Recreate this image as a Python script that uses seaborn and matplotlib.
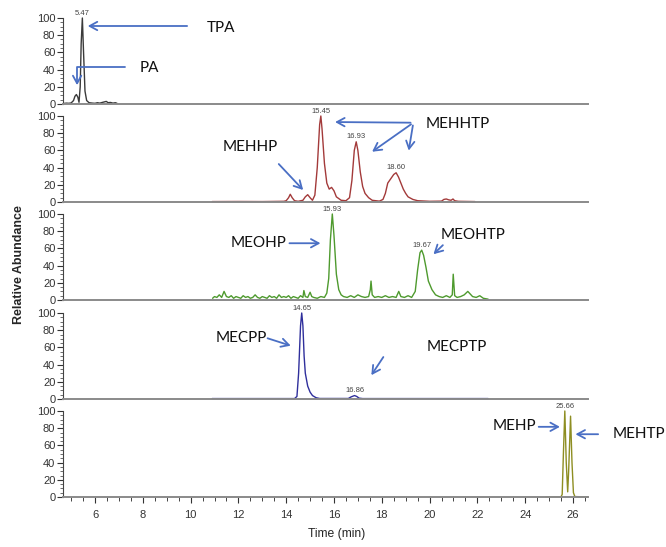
import numpy as np
import pandas as pd
import matplotlib
matplotlib.use('Agg')
import matplotlib.pyplot as plt
from matplotlib.ticker import MultipleLocator
import seaborn as sns

# ==============================================
# DATA
# ==============================================

# TPA / PA trace (top panel)
tpa_time = [4.66, 4.8, 4.9, 5.0, 5.1, 5.16, 5.22, 5.28, 5.33, 5.38, 5.42, 5.47,
            5.52, 5.58, 5.65, 5.75, 5.9, 6.0, 6.1, 6.2, 6.3, 6.4, 6.47, 6.55,
            6.65, 6.75, 6.85, 6.92]
tpa_abund = [0.5, 1.0, 0.8, 1.2, 4, 9, 11, 8, 2, 20, 70, 100,
             60, 15, 4, 1.5, 1.0, 0.8, 1.5, 1.0, 1.8, 2.5, 3.0, 1.5,
             1.8, 1.0, 1.5, 0.8]

# MEHHP / MEHHTP trace
mehhp_time = [10.9, 12.0, 13.0, 13.9, 14.0, 14.1, 14.17, 14.25, 14.35, 14.5,
              14.7, 14.8, 14.9, 15.0, 15.1, 15.2, 15.3, 15.4, 15.45, 15.5,
              15.6, 15.7, 15.8, 15.9, 16.0, 16.1, 16.3, 16.5, 16.65, 16.75,
              16.85, 16.93, 17.0, 17.1, 17.2, 17.3, 17.45, 17.6, 17.9, 18.05,
              18.15, 18.25, 18.4, 18.5, 18.6, 18.7, 18.8, 18.9, 19.0, 19.1,
              19.3, 19.5, 20.0, 20.5, 20.6, 20.7, 20.8, 20.9, 20.98, 21.05,
              21.2, 21.9]
mehhp_abund = [0.5, 0.6, 0.5, 0.8, 1.5, 5, 9, 5, 1.5, 0.8,
               2, 6, 8.5, 5, 2, 8, 40, 90, 100, 85,
               45, 22, 15, 17, 13, 6, 2, 1.5, 5, 25,
               60, 70, 60, 35, 18, 10, 5, 2, 1, 3,
               10, 22, 28, 32, 34, 29, 22, 15, 10, 6,
               3, 1.5, 0.8, 1, 3, 3.5, 2.5, 2, 3.5, 1.5,
               0.8, 0.5]

# MEOHP / MEOHTP trace (noisy baseline)
meohp_time = [10.92, 11.0, 11.1, 11.2, 11.3, 11.4, 11.5, 11.6, 11.7, 11.8,
              11.9, 12.0, 12.1, 12.2, 12.3, 12.4, 12.5, 12.6, 12.7, 12.8,
              12.9, 13.0, 13.1, 13.2, 13.3, 13.4, 13.5, 13.6, 13.7, 13.8,
              13.9, 14.0, 14.1, 14.2, 14.3, 14.4, 14.5, 14.6, 14.7, 14.74,
              14.8, 14.9, 15.0, 15.07, 15.15, 15.3, 15.45, 15.6, 15.7, 15.78,
              15.85, 15.93, 16.0, 16.1, 16.2, 16.3, 16.4, 16.55, 16.7, 16.85,
              17.0, 17.15, 17.3, 17.45, 17.52, 17.55, 17.6, 17.7, 17.85, 18.0,
              18.15, 18.3, 18.45, 18.6, 18.71, 18.8, 18.95, 19.1, 19.25, 19.4,
              19.5, 19.6, 19.67, 19.75, 19.85, 19.95, 20.1, 20.25, 20.4, 20.55,
              20.7, 20.85, 20.95, 20.99, 21.05, 21.15, 21.3, 21.45, 21.6, 21.7,
              21.8, 21.95, 22.1, 22.25, 22.45]
meohp_abund = [2, 4, 3, 6, 3, 10, 4, 3, 5, 2,
               4, 3, 2, 5, 3, 4, 2, 3, 6, 3,
               2, 4, 3, 2, 5, 3, 4, 2, 6, 3,
               4, 3, 5, 2, 4, 3, 2, 5, 3, 11,
               4, 3, 9, 4, 3, 2, 4, 3, 8, 25,
               70, 100, 75, 30, 12, 6, 4, 3, 5, 3,
               6, 4, 3, 4, 12, 22, 6, 3, 4, 3,
               5, 3, 4, 3, 10, 4, 3, 5, 3, 10,
               35, 55, 58, 52, 38, 22, 12, 6, 4, 3,
               5, 3, 6, 30, 5, 3, 4, 6, 10, 7,
               4, 3, 5, 2, 1]

# MECPP / MECPTP trace
mecpp_time = [10.9, 12.5, 14.35, 14.45, 14.52, 14.6, 14.65, 14.7, 14.75, 14.8,
              14.9, 15.0, 15.1, 15.25, 15.4, 16.6, 16.72, 16.86, 16.95, 17.05,
              17.2, 20.0, 22.45]
mecpp_abund = [0.5, 0.5, 0.5, 3, 30, 85, 100, 85, 50, 30,
               15, 8, 4, 1.5, 0.6, 0.6, 2.5, 4, 3, 1,
               0.5, 0.5, 0.5]

# MEHP / MEHTP trace
mehp_time = [24.87, 25.2, 25.5, 25.55, 25.6, 25.66, 25.72, 25.78, 25.82, 25.9,
             25.96, 26.02, 26.08, 26.3, 26.63]
mehp_abund = [0.3, 0.3, 0.3, 3, 50, 100, 40, 6, 30, 94,
              40, 5, 0.5, 0.3, 0.3]

trace_colors = ['#3a3a3a', '#a33a3a', '#4e9a2e', '#2f2f9c', '#8e8e22']

# labelled peaks per panel: (time, abundance, label)
peak_labels = [
    [(5.47, 100, '5.47')],
    [(15.45, 100, '15.45'), (16.93, 70, '16.93'), (18.60, 34, '18.60')],
    [(15.93, 100, '15.93'), (19.67, 58, '19.67')],
    [(14.65, 100, '14.65'), (16.86, 4, '16.86')],
    [(25.66, 100, '25.66')],
]

# compound names: (panel, text x, text y, label)
compound_names = [
    (0, 10.68, 88, 'TPA'), (0, 7.88, 42, 'PA'),
    (1, 11.34, 64, 'MEHHP'), (1, 19.85, 91, 'MEHHTP'),
    (2, 11.68, 66, 'MEOHP'), (2, 20.45, 76, 'MEOHTP'),
    (3, 11.06, 71, 'MECPP'), (3, 19.89, 60, 'MECPTP'),
    (4, 22.64, 83, 'MEHP'), (4, 27.66, 73, 'MEHTP'),
]

# arrows: (panel, start x, start y, tip x, tip y)
arrows = [
    (0, 9.97, 90.7, 5.58, 90.7),
    (1, 13.61, 46.5, 14.79, 11.6),
    (1, 19.32, 92.2, 15.93, 93.0),
    (1, 19.32, 92.2, 17.50, 56.6),
    (1, 19.32, 92.2, 19.11, 56.6),
    (2, 14.02, 66, 15.55, 66),
    (2, 20.64, 66, 20.08, 51),
    (3, 13.11, 71.6, 14.30, 61),
    (3, 18.13, 51.5, 17.50, 25),
    (4, 24.45, 81.6, 25.57, 81.6),
    (4, 27.17, 73, 25.99, 73),
]

traces = [
    (tpa_time, tpa_abund),
    (mehhp_time, mehhp_abund),
    (meohp_time, meohp_abund),
    (mecpp_time, mecpp_abund),
    (mehp_time, mehp_abund),
]

# ==============================================
# PLOT
# ==============================================

sns.set_style('ticks')
plt.rcParams['font.family'] = ['Liberation Sans', 'DejaVu Sans']

fig = plt.figure(figsize=(6.66, 5.47), dpi=100)

left, width = 63 / 666, (588 - 63) / 666
height = 86 / 547
zero_px = [104, 202, 300, 399, 497]
arrow_blue = '#4a6fc4'

axes = []
for i, (t, a) in enumerate(traces):
    ax = fig.add_axes([left, (547 - zero_px[i]) / 547, width, height])
    df = pd.DataFrame({'time': t, 'abund': a})
    sns.lineplot(data=df, x='time', y='abund', ax=ax, color=trace_colors[i],
                 linewidth=1.0, sort=False, estimator=None)
    for line in ax.lines:
        line.set_clip_on(False)
    ax.set_xlim(4.66, 26.63)
    ax.set_ylim(0, 100)
    ax.set_xlabel('')
    ax.set_ylabel('')
    ax.yaxis.set_major_locator(MultipleLocator(20))
    ax.yaxis.set_minor_locator(MultipleLocator(5))
    ax.tick_params(axis='y', which='major', length=4, width=0.8, labelsize=8,
                   pad=1.5, colors='#333333')
    ax.tick_params(axis='y', which='minor', length=2, width=0.6, colors='#555555')
    ax.spines['top'].set_visible(False)
    ax.spines['right'].set_visible(False)
    ax.spines['left'].set_color('#444444')
    ax.spines['left'].set_linewidth(0.8)
    ax.spines['bottom'].set_color('#8a8a8a')
    ax.spines['bottom'].set_linewidth(1.4)
    if i < 4:
        ax.tick_params(axis='x', which='both', bottom=False, labelbottom=False)
    else:
        ax.xaxis.set_major_locator(MultipleLocator(2))
        ax.xaxis.set_minor_locator(MultipleLocator(0.5))
        ax.set_xticks(range(6, 27, 2))
        ax.tick_params(axis='x', which='major', length=4, width=0.8, labelsize=8,
                       pad=5, colors='#333333')
        ax.tick_params(axis='x', which='minor', length=3, width=0.7, colors='#444444')
    for pt, pa, lab in peak_labels[i]:
        ax.annotate(lab, xy=(pt, pa), xytext=(0, 1), textcoords='offset points',
                    ha='center', va='bottom', fontsize=5.5, color='#444444',
                    annotation_clip=False)
    axes.append(ax)

for p, x, y, lab in compound_names:
    axes[p].text(x, y, lab, ha='left', va='center', fontsize=11,
                 family=['Lato', 'DejaVu Sans'], color='#111111', clip_on=False)

arrow_kw = dict(arrowstyle='->,head_length=0.55,head_width=0.3',
                color=arrow_blue, linewidth=1.3)
for p, x0, y0, x1, y1 in arrows:
    axes[p].annotate('', xy=(x1, y1), xytext=(x0, y0), arrowprops=arrow_kw,
                     annotation_clip=False)

# PA arrow bends down onto the small peak
axes[0].annotate('', xy=(5.25, 18.6), xytext=(7.38, 43),
                 arrowprops=dict(connectionstyle='angle,angleA=180,angleB=90,rad=0',
                                 **arrow_kw), annotation_clip=False)

fig.text(0.028, 1 - 265 / 547, 'Relative Abundance', rotation=90, ha='center',
         va='center', fontsize=9, fontweight='bold')
fig.text((200 + 410 / 3) / 666, 1 - 534 / 547, 'Time (min)', ha='center',
         va='center', fontsize=8.7)

plt.savefig('out.png', dpi=100)
